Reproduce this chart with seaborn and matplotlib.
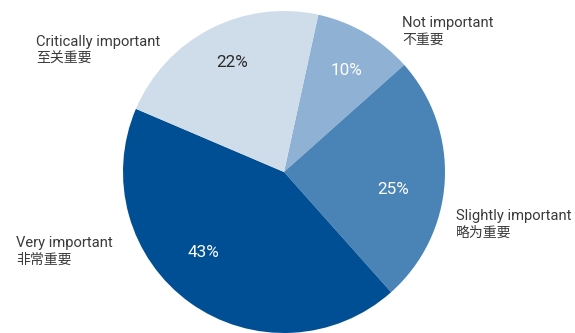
import matplotlib
matplotlib.use("Agg")
import matplotlib.pyplot as plt
import seaborn as sns

sns.set_theme(style="white")
plt.rcParams["font.family"] = ["Roboto", "Noto Sans CJK SC", "DejaVu Sans"]

# Survey shares, clockwise from the top
labels_en = ["Not important", "Slightly important", "Very important", "Critically important"]
labels_zh = ["不重要", "略为重要", "非常重要", "至关重要"]
shares = [10, 25, 43, 22]
colors = ["#8fb1d4", "#4a84b6", "#004f94", "#cfdcea"]
pct_colors = ["white", "white", "white", "#2a2a2a"]

W, H = 575, 333
# Caption anchors in pixels: left edge and English baseline
caption_px = [(402, 27), (456, 220), (16, 247), (36, 46)]
# Percentage label centres in axes data units
pct_xy = [(0.39, 0.63), (0.68, -0.11), (-0.50, -0.50), (-0.32, 0.68)]

fig = plt.figure(figsize=(W / 100, H / 100), dpi=100)
ax = fig.add_axes([123 / W, 0 / H, 322 / W, 322 / H])

wedges, texts, autotexts = ax.pie(
    shares,
    colors=colors,
    startangle=77.7,
    counterclock=False,
    autopct="%d%%",
    pctdistance=0.72,
    wedgeprops=dict(linewidth=0),
    textprops=dict(fontsize=12.3),
)
for t, c, xy in zip(autotexts, pct_colors, pct_xy):
    t.set_color(c)
    t.set_position(xy)
ax.set_xlim(-1, 1)
ax.set_ylim(-1, 1)
ax.set_aspect("equal")
ax.axis("off")

for (px, py), en, zh in zip(caption_px, labels_en, labels_zh):
    fig.text(px / W, 1 - py / H, en, ha="left", va="baseline",
             fontsize=10.6, color="#3a3a3a")
    fig.text(px / W, 1 - (py + 17) / H, zh, ha="left", va="baseline",
             fontsize=10, color="#3a3a3a", family=["Noto Sans CJK SC"])

fig.savefig("out.png", dpi=100)
